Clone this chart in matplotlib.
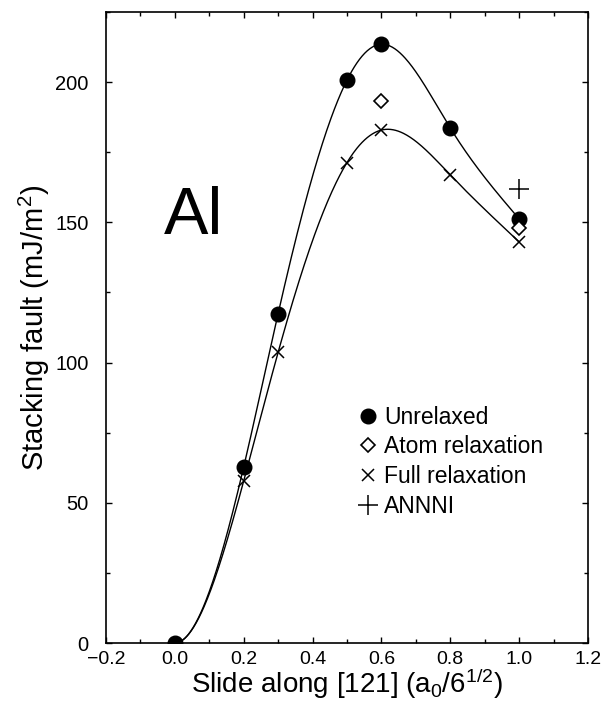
import numpy as np
import matplotlib.pyplot as plt
from matplotlib.ticker import MultipleLocator

plt.rcParams['font.family'] = ['Liberation Sans', 'DejaVu Sans']
plt.rcParams['mathtext.fontset'] = 'custom'
plt.rcParams['mathtext.rm'] = 'Liberation Sans'
plt.rcParams['mathtext.it'] = 'Liberation Sans'

# stacking fault energy along the [121] slide, in mJ/m^2
slide = [0.0, 0.2, 0.3, 0.5, 0.6, 0.8, 1.0]
unrelaxed = [0.0, 62.7, 117.4, 200.7, 213.5, 183.6, 151.2]
full_relax = [0.0, 57.7, 103.6, 171.3, 182.9, 166.9, 143.0]
atom_slide = [0.6, 1.0]
atom_relax = [193.2, 148.0]
annni_slide = [1.0]
annni = [162.0]


def spline(x, y, xs):
    # cubic spline, flat at the first point, natural at the last
    x = np.asarray(x, float)
    y = np.asarray(y, float)
    n = len(x)
    h = np.diff(x)
    A = np.zeros((n, n))
    b = np.zeros(n)
    A[0, 0] = 2 * h[0]
    A[0, 1] = h[0]
    b[0] = 6 * (y[1] - y[0]) / h[0]
    for i in range(1, n - 1):
        A[i, i - 1] = h[i - 1]
        A[i, i] = 2 * (h[i - 1] + h[i])
        A[i, i + 1] = h[i]
        b[i] = 6 * ((y[i + 1] - y[i]) / h[i] - (y[i] - y[i - 1]) / h[i - 1])
    A[-1, -1] = 1
    M = np.linalg.solve(A, b)
    k = np.clip(np.searchsorted(x, xs) - 1, 0, n - 2)
    hk = h[k]
    a = x[k + 1] - xs
    c = xs - x[k]
    return (M[k] * a**3 / (6 * hk) + M[k + 1] * c**3 / (6 * hk)
            + (y[k] / hk - M[k] * hk / 6) * a
            + (y[k + 1] / hk - M[k + 1] * hk / 6) * c)


fig = plt.figure(figsize=(6.05, 7.04), dpi=100)
ax = fig.add_axes([0.175, 0.0866, 0.797, 0.8964])

xs = np.linspace(0, 1.0, 400)
ax.plot(xs, spline(slide, unrelaxed, xs), color='black', lw=1.0)
ax.plot(xs, spline(slide, full_relax, xs), color='black', lw=1.0)

p1, = ax.plot(slide, unrelaxed, 'o', color='black', ms=10.5, label='Unrelaxed')
p2, = ax.plot(atom_slide, atom_relax, 'D', mfc='white', mec='black', mew=1.2,
              ms=7, label='Atom relaxation')
p3, = ax.plot(slide[1:], full_relax[1:], 'x', color='black', ms=8, mew=1.1,
              label='Full relaxation')
p4, = ax.plot(annni_slide, annni, '+', color='black', ms=14, mew=1.1,
              label='ANNNI')

ax.text(-0.032, 146, 'Al', fontsize=48, ha='left', va='baseline')

ax.set_xlim(-0.2, 1.2)
ax.set_ylim(0, 225)
ax.xaxis.set_major_locator(MultipleLocator(0.2))
ax.xaxis.set_minor_locator(MultipleLocator(0.1))
ax.yaxis.set_major_locator(MultipleLocator(50))
ax.yaxis.set_minor_locator(MultipleLocator(25))
ax.tick_params(which='both', direction='in', top=True, right=True,
               width=1.0, labelsize=14.5)
ax.tick_params(axis='x', which='both', labelsize=14, pad=5.5)
ax.tick_params(axis='y', which='both', pad=12.5)
ax.tick_params(which='major', length=4.5)
ax.tick_params(which='minor', length=3)
for s in ax.spines.values():
    s.set_linewidth(1.2)

ax.set_xlabel('Slide along [121] (a$_0$/6$^{1/2}$)', fontsize=20, labelpad=-0.5)
ax.set_ylabel('Stacking fault (mJ/m$^2$)', fontsize=21, labelpad=2)

ax.legend(handles=[p1, p2, p3, p4], loc='center left',
          bbox_to_anchor=(0.525, 0.287), frameon=False, fontsize=16.5,
          handlelength=0.8, handletextpad=0.3, borderpad=0,
          borderaxespad=0, labelspacing=0.3, numpoints=1)

fig.savefig('out.png', dpi=100)
